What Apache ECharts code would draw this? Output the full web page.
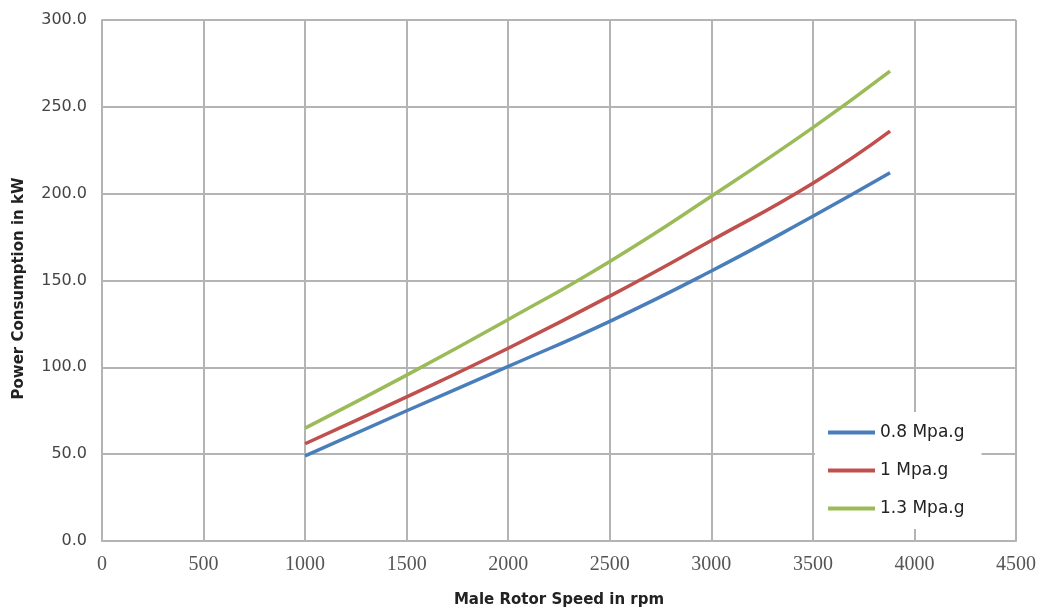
<!DOCTYPE html>
<html>
<head>
<meta charset="utf-8">
<script src="https://cdn.jsdelivr.net/npm/echarts@6/dist/echarts.min.js"></script>
<style>html,body{margin:0;padding:0;background:#fff;}#c{width:1042px;height:616px;}</style>
</head>
<body>
<div id="c"></div>
<script>
const speeds = [1000, 1500, 2000, 2500, 3000, 3500, 3880];
const p08 = [49, 75, 100.5, 126.5, 155.5, 187, 212];
const p10 = [56, 83, 111, 141, 173, 206, 236];
const p13 = [65, 95.5, 127.5, 161, 198.5, 238, 270.5];
const seriesNames = ['0.8 Mpa.g', '1 Mpa.g', '1.3 Mpa.g'];
const colors = ['#4A7EBB', '#C0504D', '#9BBB59'];

function pairs(ys) { return speeds.map((x, i) => [x, ys[i]]); }

const chart = echarts.init(document.getElementById('c'));
const gridColor = '#b4b4b4';
chart.setOption({
  animation: false,
  grid: { left: 102, right: 26, top: 20, bottom: 75 },
  xAxis: {
    type: 'value', min: 0, max: 4500, interval: 500,
    name: 'Male Rotor Speed in rpm', nameLocation: 'middle', nameGap: 52,
    nameTextStyle: { fontFamily: 'DejaVu Sans', fontWeight: 'bold', fontSize: 15, color: '#222' },
    axisLine: { show: true, lineStyle: { color: gridColor, width: 2 } },
    axisTick: { show: false },
    axisLabel: { fontFamily: 'Liberation Serif', fontSize: 20, color: '#555', margin: 14,
      formatter: v => String(v) },
    splitLine: { show: true, lineStyle: { color: gridColor, width: 2 } }
  },
  yAxis: {
    type: 'value', min: 0, max: 300, interval: 50,
    name: 'Power Consumption in kW', nameLocation: 'middle', nameGap: 75, nameRotate: 90,
    nameTextStyle: { fontFamily: 'DejaVu Sans', fontWeight: 'bold', fontSize: 15, color: '#222',
      padding: [0, 16, 0, 0] },
    axisLine: { show: true, lineStyle: { color: gridColor, width: 2 } },
    axisTick: { show: false },
    axisLabel: { fontFamily: 'DejaVu Sans', fontSize: 16, color: '#444', margin: 15,
      formatter: v => v.toFixed(1) },
    splitLine: { show: true, lineStyle: { color: gridColor, width: 2 } }
  },
  legend: {
    orient: 'vertical', left: 815, top: 412,
    backgroundColor: '#fff', padding: [12, 17, 12, 13],
    itemWidth: 47, itemHeight: 4, itemGap: 21,
    textStyle: { fontFamily: 'DejaVu Sans', fontSize: 17, color: '#222' },
    data: seriesNames.map(n => ({ name: n, icon: 'rect' })),
    itemStyle: { borderWidth: 0 }
  },
  series: [p08, p10, p13].map((d, i) => ({
    name: seriesNames[i], type: 'line', data: pairs(d), smooth: true,
    showSymbol: false, symbol: 'none', color: colors[i],
    lineStyle: { width: 3.5, color: colors[i] }
  }))
});
</script>
</body>
</html>
